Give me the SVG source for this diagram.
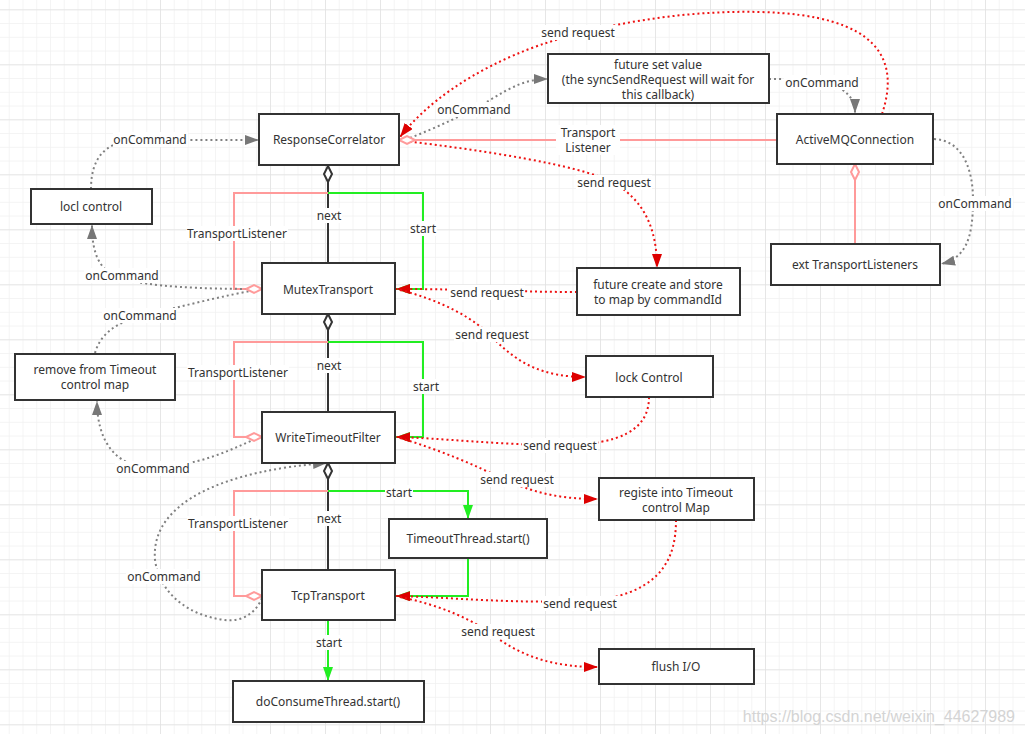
<svg xmlns="http://www.w3.org/2000/svg" width="1025" height="734" viewBox="0 0 1025 734">
<style>
.node rect{fill:#fff;stroke:#333;stroke-width:2}
.node text{font-family:"Noto Sans","Open Sans",sans-serif;font-size:12px;fill:#333;text-anchor:middle}
.lbl text{font-family:"Noto Sans","Open Sans",sans-serif;font-size:12px;fill:#333;text-anchor:middle}
.lbl rect{fill:#fff}
.gray{fill:none;stroke:#808080;stroke-width:2;stroke-dasharray:2 3}
.red{fill:none;stroke:#ee1111;stroke-width:2;stroke-dasharray:2 3}
.green{fill:none;stroke:#22ee22;stroke-width:2}
.pink{fill:none;stroke:#ff9a9a;stroke-width:2}
.dark{fill:none;stroke:#333;stroke-width:2}
.dia{fill:#fff;stroke:#333;stroke-width:2}
.pdia{fill:#fff;stroke:#ff9a9a;stroke-width:2}
</style>
<defs>
<pattern id="minor" width="13.75" height="13.75" patternUnits="userSpaceOnUse" x="-5" y="9.3">
<path d="M0,0 H13.75 M0,0 V13.75" stroke="#f1f1f1" stroke-width="1.5" fill="none"/>
</pattern>
<pattern id="major" width="55" height="55" patternUnits="userSpaceOnUse" x="-5" y="9.3">
<path d="M0,0 H55 M0,0 V55" stroke="#e2e2e2" stroke-width="1.5" fill="none"/>
</pattern>
<marker id="ag" markerWidth="14" markerHeight="10" refX="14" refY="5" orient="auto" markerUnits="userSpaceOnUse"><path d="M0,0 L14,5 L0,10 Z" fill="#777"/></marker>
<marker id="ar" markerWidth="14" markerHeight="10" refX="14" refY="5" orient="auto" markerUnits="userSpaceOnUse"><path d="M0,0 L14,5 L0,10 Z" fill="#dd0000"/></marker>
<marker id="agr" markerWidth="14" markerHeight="10" refX="14" refY="5" orient="auto" markerUnits="userSpaceOnUse"><path d="M0,0 L14,5 L0,10 Z" fill="#22ee22"/></marker>
</defs>
<rect width="1025" height="734" fill="#fff"/>
<rect width="1025" height="734" fill="url(#minor)"/>
<rect width="1025" height="734" fill="url(#major)"/>

<g id="connectors">
<!-- next lines -->
<path class="dark" d="M328,182 V263"/>
<path class="dark" d="M328,330 V412"/>
<path class="dark" d="M328,479 V570"/>
<!-- pink transport listener -->
<path class="pink" d="M328,193 H234 V289 H246"/>
<path class="pink" d="M328,342 H234 V437 H246"/>
<path class="pink" d="M328,491 H234 V596 H246"/>
<path class="pink" d="M415,140 H777"/>
<path class="pink" d="M855,180 V244"/>
<!-- green start -->
<path class="green" d="M328,193 H423 V289 H396" marker-end="url(#agr)"/>
<path class="green" d="M328,342 H423 V437 H396" marker-end="url(#agr)"/>
<path class="green" d="M328,491 H468 V519" marker-end="url(#agr)"/>
<path class="green" d="M468,558 V596 H396" marker-end="url(#agr)"/>
<path class="green" d="M328,620 V681" marker-end="url(#agr)"/>
<!-- gray onCommand -->
<path class="gray" d="M91,189 C91,158 105,140 140,140 L259,140" marker-end="url(#ag)"/>
<path class="gray" d="M262,289 C200,289 150,287 120,278 C100,271 92,255 92,225" marker-end="url(#ag)"/>
<path class="gray" d="M95,353 C100,335 115,322 145,315 C180,307 225,295 262,289"/>
<path class="gray" d="M260,437 C225,452 200,466 150,467 C115,467 97,440 97,401" marker-end="url(#ag)"/>
<path class="gray" d="M262,598 C255,615 240,622 225,620 C190,616 160,595 155,560 C150,500 230,470 327,463" marker-end="url(#ag)"/>
<path class="gray" d="M410,138 C440,126 470,112 490,100 C510,88 525,79 548,79" marker-end="url(#ag)"/>
<path class="gray" d="M769,79 C810,79 855,80 855,113" marker-end="url(#ag)"/>
<path class="gray" d="M934,139 C960,140 973,165 973,200 C973,240 965,258 941,264" marker-end="url(#ag)"/>
<!-- red send request -->
<path class="red" d="M882,114 C900,60 880,15 760,12 C680,10 600,25 540,45 C470,70 425,105 400,137" marker-end="url(#ar)"/>
<path class="red" d="M405,141 C480,150 580,165 612,182 C645,200 657,230 657,268" marker-end="url(#ar)"/>
<path class="red" d="M577,292 C520,292 470,289 396,289" marker-end="url(#ar)"/>
<path class="red" d="M400,290 C440,300 475,318 495,340 C520,365 545,377 586,377" marker-end="url(#ar)"/>
<path class="red" d="M649,397 C649,430 620,445 560,445 C500,445 440,438 396,437" marker-end="url(#ar)"/>
<path class="red" d="M400,438 C440,450 475,465 505,480 C540,495 565,499 598,499" marker-end="url(#ar)"/>
<path class="red" d="M676,520 C676,560 660,590 600,600 C520,605 450,597 396,596" marker-end="url(#ar)"/>
<path class="red" d="M400,597 C440,605 475,620 500,640 C530,660 560,667 598,667" marker-end="url(#ar)"/>
<!-- diamonds -->
<polygon class="dia" points="328,166 332,174 328,182 324,174"/>
<polygon class="dia" points="328,314 332,322 328,330 324,322"/>
<polygon class="dia" points="328,463 332,471 328,479 324,471"/>
<polygon class="pdia" points="262,289 254,285 246,289 254,293"/>
<polygon class="pdia" points="262,437 254,433 246,437 254,441"/>
<polygon class="pdia" points="262,596 254,592 246,596 254,600"/>
<polygon class="pdia" points="399,140 407,136 415,140 407,144"/>
<polygon class="pdia" points="855,164 859,172 855,180 851,172"/>
<!-- labels -->
<g class="lbl">
<rect x="316" y="208" width="26" height="15"/><text x="329" y="220">next</text>
<rect x="316" y="358" width="26" height="15"/><text x="329" y="370">next</text>
<rect x="316" y="511" width="26" height="15"/><text x="329" y="523">next</text>
<rect x="409" y="221" width="28" height="15"/><text x="423" y="233">start</text>
<rect x="412" y="379" width="28" height="15"/><text x="426" y="391">start</text>
<rect x="385" y="485" width="28" height="15"/><text x="399" y="497">start</text>
<rect x="315" y="635" width="28" height="15"/><text x="329" y="647">start</text>
<rect x="186" y="226" width="102" height="15"/><text x="237" y="238">TransportListener</text>
<rect x="187" y="365" width="102" height="15"/><text x="238" y="377">TransportListener</text>
<rect x="187" y="516" width="102" height="15"/><text x="238" y="528">TransportListener</text>
<rect x="556" y="125" width="64" height="30"/><text x="588" y="137">Transport</text><text x="588" y="152">Listener</text>
<rect x="113" y="132" width="75" height="15"/><text x="150" y="144">onCommand</text>
<rect x="84" y="268" width="75" height="15"/><text x="122" y="280">onCommand</text>
<rect x="102" y="308" width="75" height="15"/><text x="140" y="320">onCommand</text>
<rect x="115" y="461" width="75" height="15"/><text x="153" y="473">onCommand</text>
<rect x="126" y="569" width="75" height="15"/><text x="164" y="581">onCommand</text>
<rect x="436" y="102" width="75" height="15"/><text x="474" y="114">onCommand</text>
<rect x="784" y="75" width="75" height="15"/><text x="822" y="87">onCommand</text>
<rect x="937" y="196" width="76" height="15"/><text x="975" y="208">onCommand</text>
<rect x="540" y="25" width="76" height="15"/><text x="578" y="37">send request</text>
<rect x="576" y="175" width="76" height="15"/><text x="614" y="187">send request</text>
<rect x="449" y="285" width="76" height="15"/><text x="487" y="297">send request</text>
<rect x="454" y="327" width="76" height="15"/><text x="492" y="339">send request</text>
<rect x="522" y="438" width="76" height="15"/><text x="560" y="450">send request</text>
<rect x="479" y="472" width="76" height="15"/><text x="517" y="484">send request</text>
<rect x="542" y="596" width="76" height="15"/><text x="580" y="608">send request</text>
<rect x="460" y="624" width="76" height="15"/><text x="498" y="636">send request</text>
</g>
</g>

<g id="ResponseCorrelator" class="node"><rect x="259" y="114" width="140" height="51"/><text x="329" y="144">ResponseCorrelator</text></g>
<g id="ActiveMQConnection" class="node"><rect x="777" y="114" width="156" height="50"/><text x="855" y="144">ActiveMQConnection</text></g>
<g id="FutureSetValue" class="node"><rect x="548" y="54" width="221" height="49"/><text x="658" y="69">future set value</text><text x="658" y="84">(the syncSendRequest will wait for</text><text x="658" y="99">this callback)</text></g>
<g id="loclControl" class="node"><rect x="31" y="189" width="121" height="35"/><text x="91" y="211">locl control</text></g>
<g id="MutexTransport" class="node"><rect x="262" y="263" width="133" height="51"/><text x="328" y="294">MutexTransport</text></g>
<g id="FutureCreate" class="node"><rect x="577" y="268" width="163" height="47"/><text x="658" y="289">future create and store</text><text x="658" y="304">to map by commandId</text></g>
<g id="ExtTransportListeners" class="node"><rect x="771" y="244" width="169" height="41"/><text x="855" y="269">ext TransportListeners</text></g>
<g id="RemoveFromTimeout" class="node"><rect x="15" y="354" width="160" height="46"/><text x="95" y="374">remove from Timeout</text><text x="95" y="389">control map</text></g>
<g id="lockControl" class="node"><rect x="586" y="356" width="127" height="41"/><text x="649" y="382">lock Control</text></g>
<g id="WriteTimeoutFilter" class="node"><rect x="262" y="412" width="133" height="51"/><text x="328" y="442">WriteTimeoutFilter</text></g>
<g id="RegisteTimeout" class="node"><rect x="599" y="478" width="155" height="42"/><text x="676" y="497">registe into Timeout</text><text x="676" y="512">control Map</text></g>
<g id="TimeoutThread" class="node"><rect x="389" y="519" width="158" height="39"/><text x="468" y="543">TimeoutThread.start()</text></g>
<g id="TcpTransport" class="node"><rect x="262" y="570" width="133" height="50"/><text x="328" y="600">TcpTransport</text></g>
<g id="flushIO" class="node"><rect x="599" y="649" width="155" height="35"/><text x="676" y="671">flush I/O</text></g>
<g id="doConsumeThread" class="node"><rect x="233" y="681" width="191" height="41"/><text x="328" y="706">doConsumeThread.start()</text></g>

<text x="1015" y="722" font-family="Liberation Sans, Arial, sans-serif" font-size="16" fill="#d4d4d4" text-anchor="end">https://blog.csdn.net/weixin_44627989</text>
</svg>
